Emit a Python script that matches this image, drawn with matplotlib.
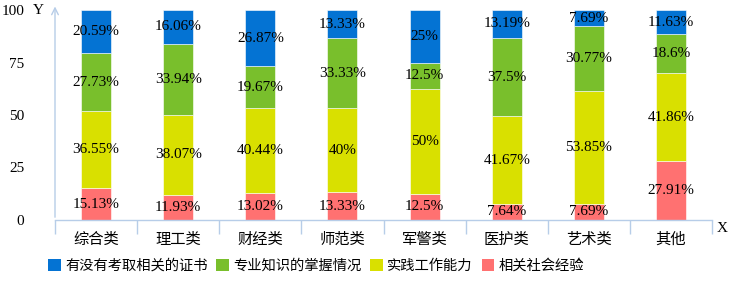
import matplotlib
matplotlib.use("Agg")
import matplotlib.pyplot as plt
import numpy as np
from matplotlib.patches import Patch

categories = ["综合类", "理工类", "财经类", "师范类", "军警类", "医护类", "艺术类", "其他"]
series_names = ["有没有考取相关的证书", "专业知识的掌握情况", "实践工作能力", "相关社会经验"]
red = [15.13, 11.93, 13.02, 13.33, 12.5, 7.64, 7.69, 27.91]
yellow = [36.55, 38.07, 40.44, 40, 50, 41.67, 53.85, 41.86]
green = [27.73, 33.94, 19.67, 33.33, 12.5, 37.5, 30.77, 18.6]
blue = [20.59, 16.06, 26.87, 13.33, 25, 13.19, 7.69, 11.63]
yticks = [0, 25, 50, 75, 100]

colors = {"blue": "#0473D3", "green": "#79BF2C", "yellow": "#D9E000", "red": "#FF7171"}
axis_color = "#B7CDE8"
cjk = ["Noto Sans CJK SC", "DejaVu Sans"]
serif = ["Liberation Serif"]

fig = plt.figure(figsize=(7.33, 2.82), dpi=100)
ax = fig.add_axes([55/733, 1-220/282, (712-55)/733, 210/282])

x = np.arange(len(categories))
width = 0.366
stack = [(red, colors["red"]), (yellow, colors["yellow"]), (green, colors["green"]), (blue, colors["blue"])]
bottom = np.zeros(len(categories))
for vals, c in stack:
    vals = np.array(vals, dtype=float)
    ax.bar(x, vals, width, bottom=bottom, color=c, edgecolor="white", linewidth=0.4)
    for xi, b, v in zip(x, bottom, vals):
        ax.text(xi, b + v/2, f"{v:g}%", ha="center", va="center", fontsize=11,
                family=serif, color="black")
    bottom += vals

ax.set_xlim(-0.5, len(categories) - 0.5)
ax.set_ylim(0, 100)
ax.set_yticks(yticks)
ax.set_yticklabels([str(t) for t in yticks], family=serif, fontsize=11)
ax.tick_params(axis="y", length=0, pad=22)
ax.set_xticks(x)
ax.set_xticklabels(categories, family=cjk, fontsize=11)
ax.tick_params(axis="x", length=0, pad=8)
ax.set_xticks(np.arange(len(categories) + 1) - 0.5, minor=True)
ax.tick_params(axis="x", which="minor", length=10, width=1, color=axis_color)

for s in ["top", "right"]:
    ax.spines[s].set_visible(False)
ax.spines["left"].set_visible(False)
ax.spines["bottom"].set_color(axis_color)
ax.spines["bottom"].set_linewidth(1)

# y axis with arrow
ax.annotate("", xy=(0, 1.03), xycoords="axes fraction", xytext=(0, 0),
            textcoords="axes fraction",
            arrowprops=dict(arrowstyle="->", color=axis_color, lw=1, mutation_scale=12))

fig.text(38/733, 1-10/282, "Y", family=serif, fontsize=11, ha="center", va="center")
fig.text(722/733, 1-228/282, "X", family=serif, fontsize=11, ha="center", va="center")

handles = [Patch(facecolor=colors[k]) for k in ["blue", "green", "yellow", "red"]]
fig.legend(handles, series_names, loc="center left", bbox_to_anchor=(48/733, 1-266/282),
           ncol=4, frameon=False, prop={"family": cjk, "size": 10.3},
           handlelength=0.9, handleheight=0.9, handletextpad=0.3, columnspacing=0.6,
           borderaxespad=0, borderpad=0)

fig.savefig("out.png", dpi=100)
